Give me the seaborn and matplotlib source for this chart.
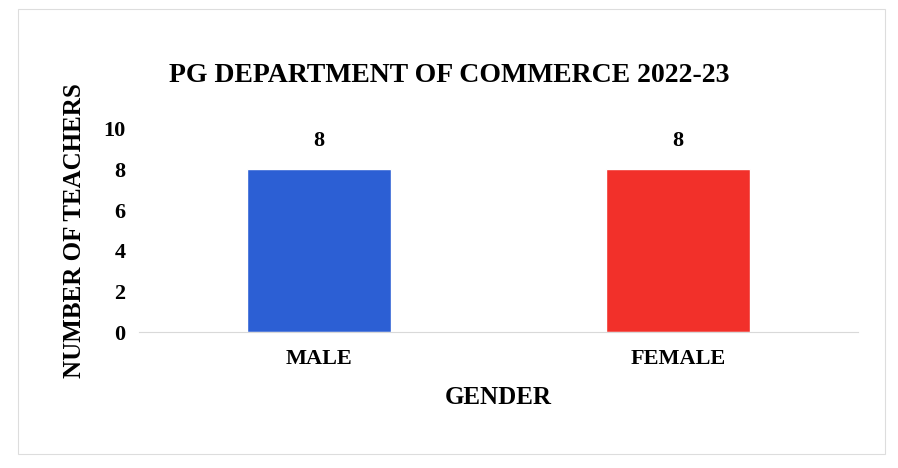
import seaborn as sns
import matplotlib.pyplot as plt
import pandas as pd

genders = ['MALE', 'FEMALE']
teachers = [8, 8]
bar_colors = ['#2C5FD4', '#F2302A']

sns.set_style('white')
plt.rcParams['font.family'] = ['Liberation Serif', 'DejaVu Serif']
plt.rcParams['font.weight'] = 'bold'
plt.rcParams['text.color'] = 'black'
plt.rcParams['axes.labelcolor'] = 'black'
plt.rcParams['xtick.color'] = 'black'
plt.rcParams['ytick.color'] = 'black'

df = pd.DataFrame({'gender': genders, 'teachers': teachers})

fig, ax = plt.subplots(figsize=(8.98, 4.68), dpi=100)
fig.subplots_adjust(left=0.155, right=0.955, top=0.725, bottom=0.29)

sns.barplot(data=df, x='gender', y='teachers', hue='gender', palette=bar_colors,
            legend=False, width=0.4, saturation=1, ax=ax)

for i, v in enumerate(teachers):
    ax.text(i, v + 0.9, str(v), ha='center', va='bottom', fontsize=16, fontweight='bold')

ax.set_ylim(0, 10)
ax.set_yticks([0, 2, 4, 6, 8, 10])
ax.tick_params(axis='both', length=0, labelsize=16, pad=10)
ax.tick_params(axis='x', pad=12)
for lab in ax.get_xticklabels() + ax.get_yticklabels():
    lab.set_fontweight('bold')

for s in ['top', 'right', 'left']:
    ax.spines[s].set_visible(False)
ax.spines['bottom'].set_color('#d9d9d9')

ax.set_xlabel('GENDER', fontsize=18, fontweight='bold', labelpad=12)
ax.set_ylabel('NUMBER OF TEACHERS', fontsize=18, fontweight='bold', labelpad=12)
fig.suptitle('PG DEPARTMENT OF COMMERCE 2022-23', fontsize=20, fontweight='bold', y=0.865)

fig.patches.append(plt.Rectangle((0.02, 0.03), 0.965, 0.95, transform=fig.transFigure,
                                 fill=False, edgecolor='#dddddd', linewidth=0.8))

fig.savefig('out.png', dpi=100)
